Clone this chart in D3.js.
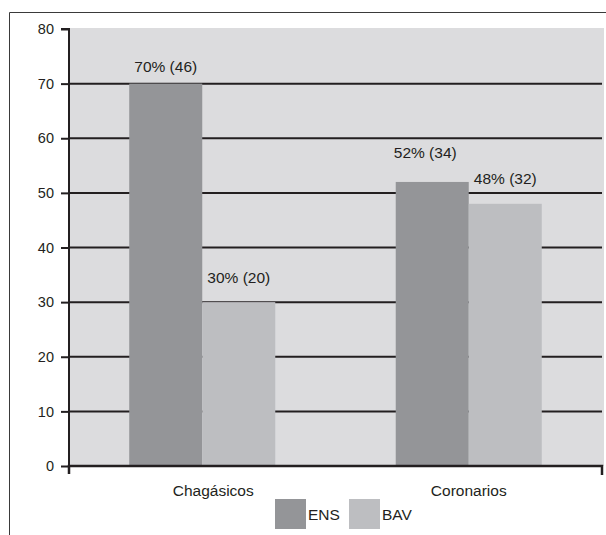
<!DOCTYPE html>
<html>
<head>
<meta charset="utf-8">
<script src="https://cdn.jsdelivr.net/npm/d3@7/dist/d3.min.js"></script>
<style>
  html, body { margin: 0; padding: 0; background: #ffffff; }
  svg { display: block; font-family: "Liberation Sans", Arial, sans-serif; }
</style>
</head>
<body>
<svg id="chart" width="606" height="535"></svg>
<script>
// Patient groups and the share of each result within the group
const categories = ["Chagásicos", "Coronarios"];
const seriesNames = ["ENS", "BAV"];
const ensPercent = [70, 52];
const ensCount = [46, 34];
const bavPercent = [30, 48];
const bavCount = [20, 32];
const yTicks = [0, 10, 20, 30, 40, 50, 60, 70, 80];

const series = [
  { name: seriesNames[0], pct: ensPercent, n: ensCount, color: "#949598" },
  { name: seriesNames[1], pct: bavPercent, n: bavCount, color: "#bdbec1" }
];

// Hand-placed nudges for the value labels (pixels above the bar, horizontal shift)
const labelLayout = {
  "ENS|Chagásicos": { lift: 12, dx: 0 },
  "BAV|Chagásicos": { lift: 19, dx: 0 },
  "ENS|Coronarios": { lift: 24, dx: -7 },
  "BAV|Coronarios": { lift: 20, dx: 0 }
};
const categoryNudge = { "Chagásicos": 11, "Coronarios": 0 };

const svg = d3.select("#chart");
const plot = { left: 69, right: 602, top: 29, bottom: 466 };

// outer frame (top and left edges)
svg.append("path")
  .attr("d", "M9.5,535 V12.5 H606")
  .attr("fill", "none").attr("stroke", "#3a3a3a").attr("stroke-width", 1);

// plot background
svg.append("rect")
  .attr("x", plot.left + 1).attr("y", 28)
  .attr("width", 604 - plot.left - 1).attr("height", plot.bottom - 28)
  .attr("fill", "#dcdcde");

const y = d3.scaleLinear().domain([0, 80]).range([plot.bottom, plot.top]);
const x0 = d3.scaleBand().domain(categories).range([plot.left, plot.right]).paddingInner(0).paddingOuter(0);
const x1 = d3.scaleBand().domain(seriesNames).range([0, x0.bandwidth()]).paddingInner(0).paddingOuter(0.825);

// horizontal gridlines
svg.append("g").selectAll("line")
  .data(yTicks.filter(t => t > 0 && t < 80))
  .join("line")
  .attr("x1", plot.left).attr("x2", plot.right)
  .attr("y1", d => y(d)).attr("y2", d => y(d))
  .attr("stroke", "#231f20").attr("stroke-width", 2);

// bars
const barData = [];
series.forEach(s => categories.forEach((c, i) => barData.push({ s: s.name, c, pct: s.pct[i], n: s.n[i], color: s.color })));

svg.append("g").selectAll("rect")
  .data(barData)
  .join("rect")
  .attr("x", d => x0(d.c) + x1(d.s))
  .attr("width", x1.bandwidth())
  .attr("y", d => y(d.pct))
  .attr("height", d => y(0) - y(d.pct))
  .attr("fill", d => d.color);

// value labels
svg.append("g").selectAll("text")
  .data(barData)
  .join("text")
  .attr("x", d => x0(d.c) + x1(d.s) + x1.bandwidth() / 2 + labelLayout[d.s + "|" + d.c].dx)
  .attr("y", d => y(d.pct) - labelLayout[d.s + "|" + d.c].lift)
  .attr("text-anchor", "middle")
  .attr("font-size", "15.5px")
  .attr("fill", "#231f20")
  .text(d => `${d.pct}% (${d.n})`);

// y axis
const yAxis = d3.axisLeft(y).tickValues(yTicks).tickSize(8).tickPadding(7);
const gy = svg.append("g").attr("transform", `translate(${plot.left},0)`).call(yAxis);
gy.select(".domain").attr("stroke", "#231f20").attr("stroke-width", 2).attr("d", `M-8,${plot.top}H0V${plot.bottom + 7}`);
gy.selectAll(".tick line").attr("stroke", "#231f20").attr("stroke-width", 2);
gy.selectAll(".tick text").attr("font-size", "14.5px").attr("fill", "#231f20")
  .attr("font-family", "Liberation Sans, Arial, sans-serif");

// x axis baseline with end ticks
const xAxis = d3.axisBottom(x0).tickSize(0).tickFormat("");
const gx = svg.append("g").attr("transform", `translate(0,${plot.bottom})`).call(xAxis);
gx.select(".domain").attr("stroke", "#231f20").attr("stroke-width", 2.5)
  .attr("d", `M${plot.left},8V0H${plot.right}V9`);

// category labels
svg.append("g").selectAll("text")
  .data(categories)
  .join("text")
  .attr("x", d => x0(d) + x0.bandwidth() / 2 + categoryNudge[d])
  .attr("y", 496)
  .attr("text-anchor", "middle")
  .attr("font-size", "15.5px")
  .attr("fill", "#231f20")
  .text(d => d);

// legend
const legendX = d3.scaleOrdinal().domain(seriesNames).range([275, 349]);
const legend = svg.append("g").selectAll("g")
  .data(series)
  .join("g")
  .attr("transform", d => `translate(${legendX(d.name)},499)`);
legend.append("rect").attr("width", 31).attr("height", 30).attr("fill", d => d.color);
legend.append("text")
  .attr("x", 33).attr("y", 21)
  .attr("font-size", "15.5px").attr("fill", "#231f20")
  .text(d => d.name);
</script>
</body>
</html>
